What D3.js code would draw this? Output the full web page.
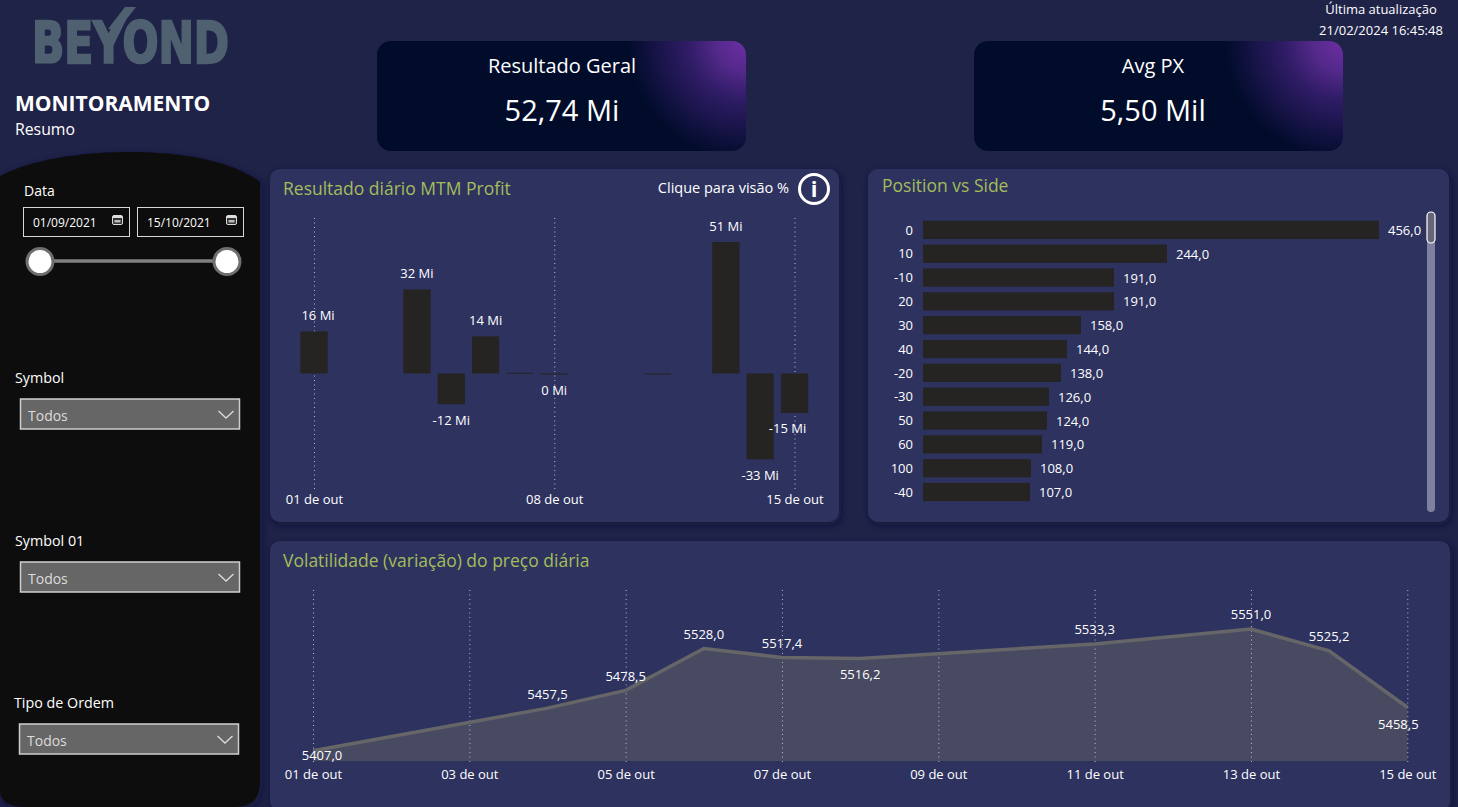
<!DOCTYPE html>
<html lang="pt">
<head>
<meta charset="utf-8">
<title>Monitoramento</title>
<script src="https://cdn.jsdelivr.net/npm/d3@7/dist/d3.min.js"></script>
<style>
html,body{margin:0;padding:0;background:#1f2348;overflow:hidden}
svg{display:block}
text{font-family:"Open Sans","Noto Sans",sans-serif;fill:#fff}
.axis path{display:none}
.axis line{stroke:#d9dbe8;stroke-width:1;stroke-dasharray:1 3.5;opacity:.8}
.axis text{font-size:13px;fill:#fff}
.title{font-size:17.5px;fill:#a4bd5a}
.lbl{font-size:13px;fill:#fff;text-anchor:middle;dominant-baseline:central}
.side{font-size:14.3px;fill:#fff}
</style>
</head>
<body>
<svg id="c" width="1458" height="807" viewBox="0 0 1458 807"></svg>
<script>
// ---------- data ----------
const dayValues = [1, 4, 5, 6, 7, 8, 11, 13, 14, 15];
const profitMi = [16.3, 32.6, -11.9, 14.4, 0.3, -0.4, -0.3, 51, -33.3, -15.3];
const profitLabels = ["16 Mi", "32 Mi", "-12 Mi", "14 Mi", "", "0 Mi", "", "51 Mi", "-33 Mi", "-15 Mi"];
const profitTicks = [1, 8, 15];
const positionCats = ["0", "10", "-10", "20", "30", "40", "-20", "-30", "50", "60", "100", "-40"];
const positionVals = [456, 244, 191, 191, 158, 144, 138, 126, 124, 119, 108, 107];
const priceVals = [5407.0, 5457.5, 5478.5, 5528.0, 5517.4, 5516.2, 5533.3, 5551.0, 5525.2, 5458.5];
const priceTicks = [1, 3, 5, 7, 9, 11, 13, 15];
const kpiNames = ["Resultado Geral", "Avg PX"];
const kpiVals = ["52,74 Mi", "5,50 Mil"];
const slicerNames = ["Symbol", "Symbol 01", "Tipo de Ordem"];

const svg = d3.select("#c");
const defs = svg.append("defs");
const shadow = defs.append("filter").attr("id", "sh").attr("x", "-5%").attr("y", "-5%").attr("width", "110%").attr("height", "110%");
shadow.append("feDropShadow").attr("dx", 2).attr("dy", 3).attr("stdDeviation", 4).attr("flood-color", "#0d1030").attr("flood-opacity", .7);
const ptFmt = d => `${String(d).padStart(2, "0")} de out`;
const numFmt = d => d.toFixed(1).replace(".", ",");

// ---------- logo ----------
const logo = svg.append("g");
logo.append("text").attr("x", 32).attr("y", 63).attr("textLength", 197).attr("lengthAdjust", "spacingAndGlyphs")
  .style("font-family", "'DejaVu Sans',sans-serif").style("font-weight", 700).style("font-size", "57px")
  .style("fill", "#4f6170").style("stroke", "#4f6170").style("stroke-width", "2.5px").text("BEYOND");
logo.append("path").attr("d", "M125 7L136 7L119 29L108 29Z").attr("fill", "#4f6170");

// ---------- header ----------
svg.append("text").attr("x", 15).attr("y", 111).style("font-size", "21px").style("font-weight", 700).text("MONITORAMENTO");
svg.append("text").attr("x", 15).attr("y", 135).style("font-size", "15.8px").text("Resumo");
svg.append("text").attr("x", 1381).attr("y", 14.2).attr("text-anchor", "middle").style("font-size", "13px").text("Última atualização");
svg.append("text").attr("x", 1381).attr("y", 35).attr("text-anchor", "middle").style("font-size", "13px").text("21/02/2024 16:45:48");

// ---------- KPI cards ----------
[[377, 185], [974, 179]].forEach(([x0, mid], i) => {
  const id = "kg" + i;
  const g = defs.append("radialGradient").attr("id", id).attr("gradientUnits", "userSpaceOnUse")
    .attr("cx", x0 + 369).attr("cy", 41).attr("r", 118);
  g.append("stop").attr("offset", 0).attr("stop-color", "#6d2fa3");
  g.append("stop").attr("offset", .25).attr("stop-color", "#55298c");
  g.append("stop").attr("offset", .5).attr("stop-color", "#2f1c66");
  g.append("stop").attr("offset", 1).attr("stop-color", "#010c2b");
  svg.append("rect").attr("x", x0).attr("y", 41).attr("width", 369).attr("height", 110).attr("rx", 14).attr("fill", `url(#${id})`);
  svg.append("text").attr("x", x0 + mid).attr("y", 73).attr("text-anchor", "middle").style("font-size", "20px").text(kpiNames[i]);
  svg.append("text").attr("x", x0 + mid).attr("y", 121).attr("text-anchor", "middle").style("font-size", "29px").text(kpiVals[i]);
});

// ---------- sidebar ----------
svg.append("path")
  .attr("d", "M0 176 C30 160 80 152 130 152 C180 152 230 160 260 182 L260 782 Q260 807 235 807 L25 807 Q0 807 0 790 Z")
  .attr("fill", "#0c0c0c").attr("filter", "url(#sh)");
svg.append("text").attr("class", "side").attr("x", 24).attr("y", 196).style("font-size", "14px").text("Data");
[[23, "01/09/2021"], [137, "15/10/2021"]].forEach(([x, t]) => {
  svg.append("rect").attr("x", x + .5).attr("y", 207.5).attr("width", 106).attr("height", 29).attr("fill", "none").attr("stroke", "#d8d8d8");
  svg.append("text").attr("x", x + 10).attr("y", 227).style("font-size", "12px").text(t);
  const ic = svg.append("g").attr("transform", `translate(${x + 89},215)`);
  ic.append("rect").attr("x", .5).attr("y", .5).attr("width", 10).attr("height", 9).attr("rx", 1.5).attr("fill", "#333").attr("stroke", "#ddd");
  ic.append("rect").attr("x", 1).attr("y", 1).attr("width", 9).attr("height", 2).attr("fill", "#ddd");
  ic.append("rect").attr("x", 2.5).attr("y", 5).attr("width", 6).attr("height", 2.5).attr("fill", "#bbb");
});
svg.append("line").attr("x1", 40).attr("x2", 227).attr("y1", 261).attr("y2", 261).attr("stroke", "#808080").attr("stroke-width", 3.5);
[40, 227].forEach(x => svg.append("circle").attr("cx", x).attr("cy", 261.5).attr("r", 13).attr("fill", "#fff").attr("stroke", "#6e6e6e").attr("stroke-width", 3));
[[15, 383, 20.5, 399], [15, 546, 20.5, 562], [14, 708, 19.5, 724]].forEach(([lx, ly, bx, by], i) => {
  svg.append("text").attr("class", "side").attr("x", lx).attr("y", ly).text(slicerNames[i]);
  svg.append("rect").attr("x", bx).attr("y", by).attr("width", 219).attr("height", 30).attr("fill", "#666").attr("stroke", "#cfcfcf").attr("stroke-width", 1.5);
  svg.append("text").attr("x", bx + 7.5).attr("y", by + 22).style("font-size", "14px").style("fill", "#dcdcdc").text("Todos");
  svg.append("path").attr("d", `M${bx + 198} ${by + 12}l7.5 7l7.5 -7`).attr("fill", "none").attr("stroke", "#ddd").attr("stroke-width", 1.3);
});

// ---------- panels ----------
const panel = (x, y, w, h) => svg.append("rect").attr("x", x).attr("y", y).attr("width", w).attr("height", h).attr("rx", 10).attr("fill", "#2e325e").attr("filter", "url(#sh)");
panel(270, 169, 569, 353);
panel(868, 169, 581, 353);
panel(270, 541, 1180, 270);

// ---------- daily profit ----------
svg.append("text").attr("class", "title").attr("x", 283).attr("y", 195).text("Resultado diário MTM Profit");
svg.append("text").attr("x", 789).attr("y", 193).attr("text-anchor", "end").style("font-size", "14.5px").text("Clique para visão %");
svg.append("circle").attr("cx", 814).attr("cy", 189).attr("r", 14.5).attr("fill", "none").attr("stroke", "#fff").attr("stroke-width", 3);
svg.append("text").attr("x", 814).attr("y", 197).attr("text-anchor", "middle").style("font-size", "22px").style("font-weight", 700).text("i");

const profitX = d3.scaleLinear().domain([1, 15]).range([314, 794.5]);
const profitY = d3.scaleLinear().domain([0, 51]).range([373.5, 242]);
const barW = profitX(2) - profitX(1) - 7;
svg.append("g").attr("class", "axis").attr("transform", "translate(0,489)")
  .call(d3.axisBottom(profitX).tickValues(profitTicks).tickFormat(ptFmt).tickSize(-274).tickPadding(5))
  .call(g => g.selectAll("text").attr("dy", "0.75em"));
const pG = svg.append("g");
pG.selectAll("rect").data(profitMi).join("rect")
  .attr("x", (d, i) => profitX(dayValues[i]) - barW / 2)
  .attr("width", barW)
  .attr("y", d => Math.min(profitY(d), profitY(0)))
  .attr("height", d => Math.max(1, Math.abs(profitY(d) - profitY(0))))
  .attr("fill", "#252423");
const profitNudge = { "16 Mi": 4, "-15 Mi": -7 };
pG.selectAll("text").data(profitMi).join("text").attr("class", "lbl")
  .attr("x", (d, i) => profitX(dayValues[i]) + (profitNudge[profitLabels[i]] || 0))
  .attr("y", d => profitY(d) + (d >= 0 ? -16 : 15.5))
  .text((d, i) => profitLabels[i]);

// ---------- position vs side ----------
svg.append("text").attr("class", "title").attr("x", 882).attr("y", 192).text("Position vs Side");
const posX = d3.scaleLinear().domain([0, 456]).range([923, 1379]);
const posY = d3.scaleBand().domain(positionCats).range([217.9, 504]).paddingInner(.235).paddingOuter(.12);
svg.append("g").selectAll("rect").data(positionVals).join("rect")
  .attr("x", posX(0)).attr("y", (d, i) => posY(positionCats[i]))
  .attr("width", d => posX(d) - posX(0)).attr("height", posY.bandwidth()).attr("fill", "#252423");
svg.append("g").attr("class", "axis").attr("transform", "translate(923,0.5)")
  .call(d3.axisLeft(posY).tickSize(0).tickPadding(10));
svg.append("g").selectAll("text").data(positionVals).join("text").attr("class", "lbl")
  .style("text-anchor", "start")
  .attr("x", d => posX(d) + 9).attr("y", (d, i) => posY(positionCats[i]) + posY.bandwidth() / 2)
  .text(numFmt);
svg.append("rect").attr("x", 1427).attr("y", 212).attr("width", 8).attr("height", 300).attr("rx", 4).attr("fill", "#7f7f9f");
svg.append("rect").attr("x", 1427).attr("y", 212).attr("width", 8).attr("height", 31).attr("rx", 4).attr("fill", "#666678").attr("stroke", "#fff").attr("stroke-width", 1.2);

// ---------- volatility ----------
svg.append("text").attr("class", "title").attr("x", 283).attr("y", 567).text("Volatilidade (variação) do preço diária");
const priceX = d3.scaleLinear().domain([1, 15]).range([313, 1407.3]);
const priceY = d3.scaleLinear().domain([5395, 5551]).range([761, 629]);
const pts = priceVals.map((v, i) => [dayValues[i], v]);
svg.append("path").datum(pts).attr("fill", "#484a62")
  .attr("d", d3.area().x(d => priceX(d[0])).y0(priceY(5395)).y1(d => priceY(d[1])));
svg.append("g").attr("class", "axis").attr("transform", "translate(0,762)")
  .call(d3.axisBottom(priceX).tickValues(priceTicks).tickFormat(ptFmt).tickSize(-175).tickPadding(5))
  .call(g => g.selectAll("text").attr("dy", "0.9em"));
svg.append("path").datum(pts).attr("fill", "none").attr("stroke", "#666668").attr("stroke-width", 3.5)
  .attr("d", d3.line().x(d => priceX(d[0])).y(d => priceY(d[1])));
const priceLabelOffset = [[9, 4.5], [0, -14], [0, -14], [0, -14], [0, -14], [0, 16], [0, -15], [0, -15], [0, -15], [-9, 17]];
svg.append("g").selectAll("text").data(pts).join("text").attr("class", "lbl")
  .attr("x", (d, i) => priceX(d[0]) + priceLabelOffset[i][0])
  .attr("y", (d, i) => priceY(d[1]) + priceLabelOffset[i][1])
  .text(d => numFmt(d[1]));
</script>
</body>
</html>
